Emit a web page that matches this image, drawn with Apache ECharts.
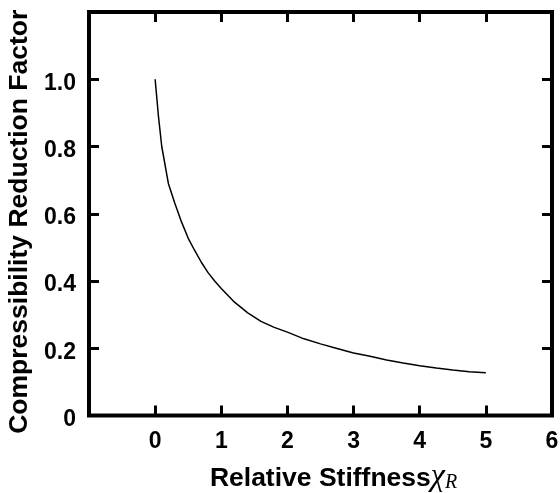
<!DOCTYPE html>
<html><head><meta charset="utf-8">
<script src="https://cdn.jsdelivr.net/npm/echarts@6/dist/echarts.min.js"></script>
<style>html,body{margin:0;padding:0;background:#fff}#c{width:560px;height:493px}</style>
</head><body><div id="c"></div>
<script>
// Data
const stiffness = [0, 0.05, 0.1, 0.2, 0.3, 0.4, 0.5, 0.6, 0.7, 0.8, 0.9, 1.0, 1.2, 1.4, 1.6, 1.8, 2.0, 2.25, 2.5, 2.75, 3.0, 3.25, 3.5, 3.75, 4.0, 4.25, 4.5, 4.75, 5.0];
const reductionFactor = [1.0, 0.89, 0.80, 0.69, 0.63, 0.575, 0.527, 0.49, 0.455, 0.425, 0.40, 0.378, 0.337, 0.305, 0.28, 0.262, 0.248, 0.228, 0.213, 0.199, 0.186, 0.176, 0.165, 0.156, 0.148, 0.141, 0.135, 0.130, 0.127];
const xTickLabels = ['', '0', '1', '2', '3', '4', '5', '6'];   // for -1 .. 6
const yTickLabels = ['0', '0.2', '0.4', '0.6', '0.8', '1.0', '']; // for 0 .. 1.2
const xName = 'Relative Stiffness';
const yName = 'Compressibility Reduction Factor';

const FONT = '"Liberation Sans", Arial, Helvetica, sans-serif';
const SERIF = '"Liberation Serif", "Times New Roman", serif';
const chart = echarts.init(document.getElementById('c'));
function makeTick() { return {show: true, inside: true, length: 10, lineStyle: {color: '#000', width: 3}}; }
function baseX(extra) {
  return Object.assign({type: 'value', min: -1, max: 6, interval: 1, splitLine: {show: false}, axisLine: {show: false, onZero: false}, axisTick: makeTick()}, extra);
}
function baseY(extra) {
  return Object.assign({type: 'value', min: 0, max: 1.2, interval: 0.2, splitLine: {show: false}, axisLine: {show: false, onZero: false}, axisTick: makeTick()}, extra);
}

chart.setOption({
  animation: false,
  grid: {left: 89, right: 8, top: 12, bottom: 77.5, outerBoundsMode: 'none', show: true, borderWidth: 4, borderColor: '#000'},
  xAxis: [
    baseX({
      position: 'bottom',
      axisLabel: {
        margin: 15, color: '#000', fontFamily: FONT, fontWeight: 'bold', fontSize: 23,
        formatter: v => xTickLabels[Math.round(v + 1)] ?? ''
      },
      name: '{m|' + xName + '}{chi|χ}{sub|R}',
      nameLocation: 'middle',
      nameGap: 45,
      nameTextStyle: {
        padding: [0, 0, 0, 26],
        rich: {
          m: {fontFamily: FONT, fontWeight: 'bold', fontSize: 26.5, color: '#000', verticalAlign: 'bottom'},
          chi: {fontFamily: SERIF, fontStyle: 'italic', fontSize: 32, color: '#000', verticalAlign: 'bottom'},
          sub: {fontFamily: SERIF, fontStyle: 'italic', fontSize: 20, color: '#000', verticalAlign: 'bottom'}
        }
      }
    }),
    baseX({position: 'top', axisLabel: {show: false}})
  ],
  yAxis: [
    baseY({
      position: 'left',
      axisLabel: {
        margin: 13, color: '#000', fontFamily: FONT, fontWeight: 'bold', fontSize: 23,
        verticalAlign: 'top', lineHeight: 8,
        formatter: v => yTickLabels[Math.round(v / 0.2)] ?? ''
      },
      name: yName,
      nameLocation: 'middle',
      nameGap: 56,
      nameTextStyle: {fontFamily: FONT, fontWeight: 'bold', fontSize: 26.5, color: '#000', padding: [0, 16, 0, 0]}
    }),
    baseY({position: 'right', axisLabel: {show: false}})
  ],
  series: [{
    type: 'line',
    data: stiffness.map((x, i) => [x, reductionFactor[i]]),
    showSymbol: false,
    symbol: 'none',
    smooth: false,
    lineStyle: {color: '#000', width: 1.5}
  }]
});
</script>
</body></html>
